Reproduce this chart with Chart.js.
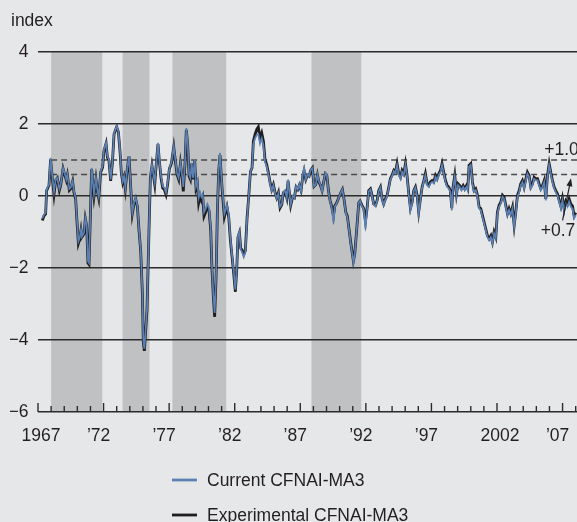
<!DOCTYPE html>
<html>
<head>
<meta charset="utf-8">
<script src="https://cdn.jsdelivr.net/npm/chart.js@4.4.0/dist/chart.umd.min.js"></script>
<style>
  html, body { margin: 0; padding: 0; background: #e6e7e9; }
  #wrap { width: 577px; height: 522px; }
</style>
</head>
<body>
<div id="wrap"><canvas id="cfnai" width="577" height="522"></canvas></div>
<script>
// dates as decimal years
const years = [
  // 1967-1975
  1967.33,1967.46,1967.58,1967.66,1967.84,1967.96,1968.09,1968.22,1968.35,1968.47,
  1968.63,1968.73,1968.91,1969.03,1969.16,1969.24,1969.39,1969.49,1969.64,1969.74,
  1969.87,1969.95,1970.08,1970.18,1970.28,1970.35,1970.51,1970.61,1970.71,1970.81,
  1970.89,1970.97,1971.09,1971.17,1971.27,1971.42,1971.52,1971.63,1971.78,1971.93,
  1972.03,1972.19,1972.29,1972.41,1972.54,1972.67,1972.80,1972.92,1973.00,1973.13,
  1973.25,1973.36,1973.46,1973.56,1973.66,1973.81,1973.94,1974.07,1974.19,1974.32,
  1974.45,1974.58,1974.70,1974.83,1974.96,1975.03,1975.11,
  // 1975-1983
  1975.31,1975.44,1975.57,1975.69,1975.82,1975.90,1976.02,1976.15,1976.25,1976.38,
  1976.51,1976.63,1976.76,1976.89,1977.02,1977.17,1977.35,1977.47,1977.60,1977.73,
  1977.86,1977.98,1978.08,1978.21,1978.31,1978.41,1978.52,1978.62,1978.72,1978.82,
  1978.95,1979.05,1979.15,1979.25,1979.36,1979.46,1979.56,1979.66,1979.79,1979.92,
  1980.04,1980.17,1980.27,1980.37,1980.47,1980.58,1980.68,1980.78,1980.88,1980.98,
  1981.09,1981.21,1981.31,1981.41,1981.54,1981.67,1981.80,1981.92,1982.05,1982.15,
  1982.25,1982.36,1982.46,1982.56,1982.69,1982.81,1982.94,1983.07,1983.20,1983.32,
  // 1983-1991
  1983.42,1983.55,1983.68,1983.80,1983.93,1984.06,1984.19,1984.31,1984.44,1984.57,
  1984.70,1984.82,1984.95,1985.08,1985.20,1985.33,1985.46,1985.59,1985.71,1985.84,
  1985.97,1986.07,1986.17,1986.27,1986.42,1986.55,1986.68,1986.81,1986.93,1987.06,
  1987.19,1987.29,1987.42,1987.54,1987.67,1987.80,1987.92,1988.05,1988.18,1988.31,
  1988.41,1988.53,1988.66,1988.79,1988.92,1989.02,1989.15,1989.27,1989.40,1989.53,
  1989.63,1989.78,1989.93,1990.09,1990.21,1990.34,1990.47,1990.59,1990.72,1990.85,
  1990.98,1991.05,1991.15,1991.26,1991.36,1991.46,1991.56,
  // 1991-1999
  1991.71,1991.84,1991.97,1992.09,1992.22,1992.35,1992.47,1992.60,1992.73,1992.86,
  1992.98,1993.11,1993.24,1993.36,1993.49,1993.62,1993.75,1993.87,1994.00,1994.13,
  1994.25,1994.38,1994.51,1994.64,1994.76,1994.89,1995.02,1995.14,1995.27,1995.40,
  1995.53,1995.65,1995.78,1995.91,1996.03,1996.16,1996.29,1996.42,1996.54,1996.67,
  1996.80,1996.92,1997.05,1997.18,1997.31,1997.43,1997.56,1997.69,1997.81,1997.94,
  1998.07,1998.20,1998.32,1998.45,1998.55,1998.65,1998.78,1998.91,1999.03,1999.16,
  1999.29,1999.42,1999.54,1999.67,1999.77,
  // 1999-2008
  1999.87,2000.00,2000.13,2000.25,2000.38,2000.51,2000.64,2000.76,2000.89,2001.02,
  2001.14,2001.27,2001.40,2001.53,2001.65,2001.78,2001.91,2002.03,2002.16,2002.29,
  2002.42,2002.54,2002.67,2002.80,2002.92,2003.05,2003.18,2003.31,2003.43,2003.56,
  2003.69,2003.81,2003.94,2004.07,2004.20,2004.32,2004.45,2004.58,2004.71,2004.83,
  2004.96,2005.09,2005.21,2005.34,2005.47,2005.60,2005.72,2005.85,2005.98,2006.10,
  2006.23,2006.36,2006.48,2006.61,2006.74,2006.87,2006.99,2007.12,2007.25,2007.38,
  2007.50,2007.63,2007.76,2007.88,2008.01
];

const current = [
  -0.62,-0.51,-0.47,0.18,0.32,1.06,0.55,0.12,0.46,0.50,
  0.20,0.32,0.78,0.64,0.46,0.60,0.20,0.23,0.41,0.13,
  -0.05,-0.56,-1.26,-1.16,-0.93,-1.12,-1.02,-0.61,-0.79,-1.81,
  -1.86,-0.84,0.78,0.46,0.05,0.50,0.18,-0.02,0.69,0.83,
  1.29,1.48,1.11,1.01,0.46,0.92,1.75,1.85,1.94,1.80,
  1.29,0.64,0.41,0.55,0.23,0.78,1.11,0.27,-0.47,-0.19,
  -0.05,-0.28,-0.93,-1.49,-2.69,-4.00,-4.24,

  -3.15,-1.30,0.55,0.87,0.55,0.37,0.92,1.48,1.01,0.55,
  0.27,0.23,0.09,0.37,0.78,0.92,1.38,1.01,0.64,0.50,
  0.92,0.60,0.25,0.92,1.89,1.48,0.60,0.50,0.92,0.50,
  1.01,0.27,0.40,-0.05,0.10,-0.02,0.05,-0.45,-0.35,-0.22,
  -0.33,-0.90,-2.00,-2.75,-3.25,-2.20,-0.37,0.74,1.20,0.55,
  0.02,-0.50,-0.38,-0.25,-0.52,-1.18,-1.65,-2.10,-2.60,-2.02,
  -1.10,-1.00,-1.49,-1.55,-1.70,-1.58,-0.65,0.00,0.69,0.78,

  1.45,1.60,1.70,1.72,1.45,1.60,1.40,0.95,0.82,0.60,
  0.34,0.15,0.30,0.07,-0.07,0.07,-0.30,-0.22,0.10,0.15,
  -0.05,0.46,0.09,-0.24,0.00,-0.05,0.27,0.18,0.32,0.13,
  0.60,0.78,0.46,0.60,0.55,0.74,0.78,0.27,0.32,0.60,
  0.41,0.32,0.13,0.41,0.64,0.60,0.13,-0.14,-0.33,-0.75,
  -0.30,-0.20,-0.05,0.09,0.18,-0.10,-0.47,-0.58,-0.95,-1.32,
  -1.64,-1.86,-1.64,-1.12,-0.65,-0.19,-0.14,

  -0.28,-0.37,-0.93,-0.37,0.13,0.18,0.00,-0.24,-0.28,-0.14,
  0.13,0.23,-0.10,-0.24,-0.10,0.00,0.23,0.46,0.55,0.69,
  0.64,0.86,0.58,0.48,0.67,0.58,0.86,0.55,0.04,-0.40,
  -0.19,0.13,0.23,0.00,-0.50,-0.10,0.23,0.41,0.58,0.30,
  0.25,0.35,0.39,0.35,0.53,0.44,0.58,0.67,0.86,0.62,
  0.39,0.25,0.21,0.11,-0.40,0.21,0.53,0.02,0.30,0.25,
  0.16,0.25,0.16,0.25,0.16,

  0.81,0.86,0.35,0.11,0.16,-0.02,-0.35,-0.39,-0.58,-0.77,
  -0.95,-1.14,-1.23,-1.14,-1.32,-1.04,-1.18,-0.49,-0.30,-0.21,
  -0.02,-0.07,-0.30,-0.53,-0.39,-0.53,-0.35,-0.86,-0.49,-0.02,
  0.11,0.30,0.39,0.21,0.44,0.62,0.53,0.21,0.30,0.48,
  0.44,0.44,0.30,0.16,0.25,0.39,-0.12,0.53,0.86,0.62,
  0.39,0.21,0.11,0.02,-0.16,-0.35,-0.12,-0.44,-0.21,-0.30,
  -0.16,-0.30,-0.35,-0.62,-0.53
];

const experimental = [
  -0.68,-0.55,-0.50,0.15,0.30,1.02,0.50,0.04,0.44,0.50,
  0.16,0.30,0.76,0.60,0.44,0.58,0.16,0.20,0.40,0.10,
  -0.08,-0.58,-1.32,-1.20,-0.95,-1.14,-1.05,-0.63,-0.82,-1.86,
  -1.90,-0.86,0.74,0.42,0.00,0.46,0.15,-0.06,0.66,0.80,
  1.26,1.46,1.08,0.98,0.42,0.90,1.72,1.84,1.92,1.78,
  1.26,0.62,0.38,0.52,0.20,0.76,1.10,0.24,-0.50,-0.22,
  -0.08,-0.30,-0.95,-1.52,-2.72,-4.05,-4.30,

  -3.18,-1.32,0.52,0.84,0.52,0.32,0.90,1.44,0.98,0.50,
  0.22,0.18,0.04,0.34,0.76,0.90,1.36,0.98,0.60,0.46,
  0.90,0.56,0.13,0.90,1.84,1.44,0.55,0.46,0.90,0.46,
  0.98,0.22,0.34,-0.19,0.00,-0.12,-0.02,-0.56,-0.44,-0.30,
  -0.40,-0.95,-2.06,-2.80,-3.36,-2.25,-0.40,0.70,1.14,0.50,
  -0.05,-0.58,-0.44,-0.30,-0.58,-1.23,-1.70,-2.15,-2.66,-2.06,
  -1.14,-1.02,-1.45,-1.50,-1.62,-1.52,-0.62,0.00,0.68,0.78,

  1.52,1.71,1.85,1.92,1.60,1.75,1.52,1.02,0.87,0.64,
  0.37,0.18,0.32,0.09,-0.05,0.09,-0.33,-0.24,0.09,0.13,
  -0.05,0.42,0.07,-0.26,-0.02,-0.05,0.25,0.18,0.30,0.15,
  0.55,0.70,0.46,0.58,0.55,0.72,0.78,0.27,0.32,0.58,
  0.40,0.30,0.15,0.40,0.62,0.58,0.15,-0.12,-0.30,-0.56,
  -0.28,-0.19,-0.05,0.09,0.18,-0.10,-0.45,-0.56,-0.93,-1.30,
  -1.62,-1.81,-1.62,-1.12,-0.65,-0.19,-0.14,

  -0.26,-0.35,-0.70,-0.35,0.15,0.20,0.02,-0.22,-0.26,-0.12,
  0.15,0.25,-0.08,-0.22,-0.08,0.02,0.25,0.48,0.58,0.71,
  0.66,0.90,0.62,0.52,0.71,0.62,0.90,0.57,0.08,-0.34,
  -0.17,0.15,0.25,0.02,-0.44,-0.08,0.25,0.43,0.62,0.34,
  0.29,0.39,0.43,0.39,0.57,0.48,0.62,0.71,0.90,0.66,
  0.43,0.29,0.25,0.15,-0.34,0.25,0.57,0.06,0.34,0.29,
  0.20,0.29,0.20,0.29,0.20,

  0.85,0.90,0.39,0.15,0.20,0.02,-0.31,-0.35,-0.54,-0.73,
  -0.91,-1.10,-1.19,-1.10,-1.28,-1.00,-1.14,-0.45,-0.26,-0.17,
  0.02,-0.03,-0.26,-0.49,-0.35,-0.49,-0.31,-0.82,-0.45,0.02,
  0.15,0.34,0.43,0.25,0.48,0.66,0.57,0.25,0.34,0.52,
  0.48,0.48,0.34,0.20,0.29,0.43,-0.08,0.57,0.90,0.66,
  0.43,0.25,0.15,0.06,-0.12,-0.28,-0.06,-0.36,-0.14,-0.22,
  -0.08,-0.22,-0.28,-0.55,-0.46
];

// shaded periods (start / end, decimal years)
const shadeFrom = [1968.0, 1973.45, 1977.25, 1987.85];
const shadeTo   = [1971.9, 1975.5, 1981.35, 1991.65];

// dashed reference lines and their labels
const refLevels = [1.0, 0.6];
const refLabels = ['+1.0', '+0.7'];

// x axis labels
const labelYears = [1967, 1972, 1977, 1982, 1987, 1992, 1997, 2002, 2007];
const labelText  = ['1967', '\u201972', '\u201977', '\u201982', '\u201987', '\u201992', '\u201997', '2002', '\u201907'];

const BG = '#e6e7e9';
const SHADE = '#c0c1c3';
const BLUE = '#5b81b4';
const BLACK = '#1f1d1e';
const GRID = '#2b2b2b';
const TEXT = '#231f20';
const FONT = '"Liberation Sans", Arial, Helvetica, sans-serif';
const FSIZE = 17.5;

const decor = {
  id: 'decor',
  beforeDraw(chart) {
    const { ctx, chartArea: a, scales: { x } } = chart;
    ctx.save();
    ctx.fillStyle = BG;
    ctx.fillRect(0, 0, chart.width, chart.height);
    ctx.fillStyle = SHADE;
    shadeFrom.forEach((s, i) => {
      const x0 = x.getPixelForValue(s);
      const x1 = x.getPixelForValue(shadeTo[i]);
      ctx.fillRect(x0, a.top, x1 - x0, a.bottom - a.top);
    });
    ctx.restore();
  },
  beforeDatasetsDraw(chart) {
    const { ctx, chartArea: a, scales: { x, y } } = chart;
    ctx.save();
    ctx.setLineDash([6, 4]);
    ctx.strokeStyle = '#4a4a4a';
    ctx.lineWidth = 1.5;
    refLevels.forEach(v => {
      const py = y.getPixelForValue(v);
      ctx.beginPath();
      ctx.moveTo(x.getPixelForValue(1968), py);
      ctx.lineTo(a.right, py);
      ctx.stroke();
    });
    ctx.restore();
  },
  afterDraw(chart) {
    const { ctx, chartArea: a, scales: { x, y } } = chart;
    ctx.save();

    // year ticks pointing up from the axis
    ctx.strokeStyle = GRID;
    ctx.lineWidth = 1.4;
    for (let yr = 1967; yr <= 2008; yr++) {
      const px = x.getPixelForValue(yr);
      const len = (yr - 1967) % 5 === 0 ? 9 : 6;
      ctx.beginPath();
      ctx.moveTo(px, a.bottom);
      ctx.lineTo(px, a.bottom - len);
      ctx.stroke();
    }

    ctx.fillStyle = TEXT;
    ctx.font = FSIZE + 'px ' + FONT;
    ctx.textBaseline = 'alphabetic';
    ctx.textAlign = 'center';
    labelYears.forEach((yr, i) => {
      const t = labelText[i];
      const off = t.length > 3 ? 3 : -5;
      ctx.fillText(t, x.getPixelForValue(yr) + off, a.bottom + 29);
    });

    // axis title
    ctx.textAlign = 'left';
    ctx.fillText('index', 11, 26);

    // reference labels and arrow
    ctx.fillText(refLabels[0], x.getPixelForValue(2005.6), y.getPixelForValue(1.15));
    ctx.fillText(refLabels[1], x.getPixelForValue(2005.34), y.getPixelForValue(-1.12));
    const ax0 = x.getPixelForValue(2007.0), ay0 = y.getPixelForValue(-0.68);
    const ax1 = x.getPixelForValue(2007.64), ay1 = y.getPixelForValue(0.49);
    const ang = Math.atan2(ay1 - ay0, ax1 - ax0);
    ctx.strokeStyle = TEXT;
    ctx.lineWidth = 1.2;
    ctx.beginPath();
    ctx.moveTo(ax0, ay0);
    ctx.lineTo(ax1 - 5 * Math.cos(ang), ay1 - 5 * Math.sin(ang));
    ctx.stroke();
    ctx.beginPath();
    ctx.moveTo(ax1, ay1);
    ctx.lineTo(ax1 - 8 * Math.cos(ang) + 3 * Math.sin(ang), ay1 - 8 * Math.sin(ang) - 3 * Math.cos(ang));
    ctx.lineTo(ax1 - 8 * Math.cos(ang) - 3 * Math.sin(ang), ay1 - 8 * Math.sin(ang) + 3 * Math.cos(ang));
    ctx.closePath();
    ctx.fill();

    // legend
    const items = chart.data.datasets;
    const rowY = [480, 515];
    items.forEach((ds, i) => {
      ctx.strokeStyle = ds.borderColor;
      ctx.lineWidth = 2.8;
      ctx.beginPath();
      ctx.moveTo(172, rowY[i]);
      ctx.lineTo(197, rowY[i]);
      ctx.stroke();
      ctx.fillStyle = TEXT;
      ctx.fillText(ds.label, 207, rowY[i] + 6.3);
    });
    ctx.restore();
  }
};

const toPoints = vals => years.map((t, i) => ({ x: t, y: vals[i] }));

new Chart(document.getElementById('cfnai'), {
  type: 'line',
  data: {
    datasets: [
      {
        label: 'Current CFNAI-MA3',
        data: toPoints(current),
        borderColor: BLUE,
        borderWidth: 1.7,
        pointRadius: 0,
        tension: 0
      },
      {
        label: 'Experimental CFNAI-MA3',
        data: toPoints(experimental),
        borderColor: BLACK,
        borderWidth: 2.8,
        pointRadius: 0,
        tension: 0
      }
    ]
  },
  options: {
    responsive: false,
    animation: false,
    layout: { padding: { left: 10, top: 52, right: 0, bottom: 110 } },
    plugins: { legend: { display: false }, tooltip: { enabled: false } },
    scales: {
      x: { type: 'linear', min: 1967, max: 2008.1, display: false },
      y: {
        min: -6,
        max: 4,
        afterFit: s => { s.width = 28; },
        ticks: {
          stepSize: 2,
          padding: 9.5,
          color: TEXT,
          font: { family: FONT, size: FSIZE },
          callback: v => (v < 0 ? '\u2212' + Math.abs(v) : String(v))
        },
        grid: { color: GRID, lineWidth: 1.6, drawTicks: false },
        border: { display: false }
      }
    }
  },
  plugins: [decor]
});
</script>
</body>
</html>
